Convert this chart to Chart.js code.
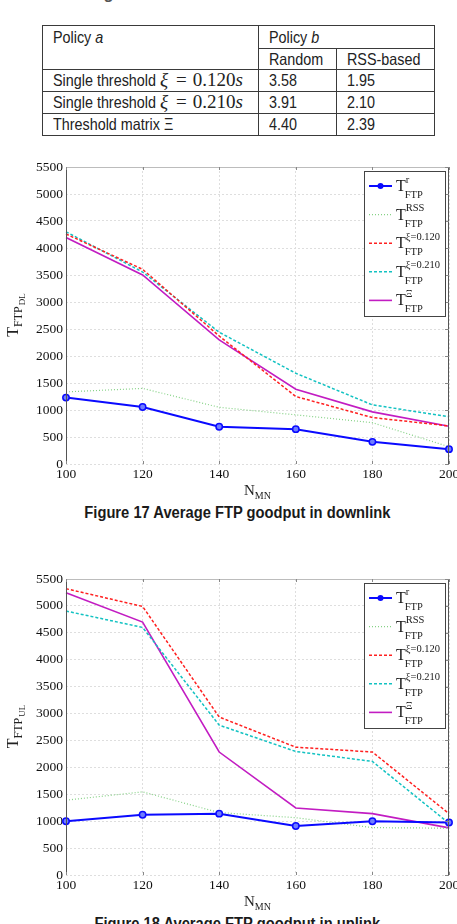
<!DOCTYPE html>
<html>
<head>
<meta charset="utf-8">
<title>Average FTP goodput</title>
<script src="https://cdn.jsdelivr.net/npm/chart.js@4.4.1/dist/chart.umd.min.js"></script>
<style>
html, body { margin: 0; padding: 0; background: #fff; }
body { position: relative; width: 457px; height: 924px; overflow: hidden; color: #222;
  font-family: "Liberation Sans", Arial, sans-serif; }
.tabtitle { position: absolute; left: 2px; top: -15px; font-size: 16px; font-weight: bold; font-style: italic; white-space: nowrap; color: #555; }
#factors { position: absolute; left: 42px; top: 25px; width: 392px; border-collapse: collapse; table-layout: fixed; font-size: 16.5px; }
#factors td { border: 1px solid #3a3a3a; padding: 0 0 0 10px; line-height: 20px; vertical-align: top; white-space: nowrap; overflow: hidden; }
#factors .m { font-family: "Liberation Serif", serif; font-size: 19px; }
#factors .m b { font-weight: normal; padding: 0 6px 0 8px; }
.nar { display: inline-block; transform: scaleX(0.87); transform-origin: 0 0; }
.caption { position: absolute; left: 37px; width: 400px; text-align: center; font-weight: bold; font-size: 16px; white-space: nowrap; color: #1a1a1a; }
.caption span { display: inline-block; transform: scaleX(0.92); transform-origin: 50% 0; }
canvas { position: absolute; left: 0; }
</style>
</head>
<body>
<div class="tabtitle">Table 1 Average handover rotation factors</div>
<table id="factors"></table>
<canvas id="dlChart" width="457" height="352" style="top:150px"></canvas>
<div class="caption" style="top:504px"><span>Figure 17 Average FTP goodput in downlink</span></div>
<canvas id="ulChart" width="457" height="352" style="top:560px"></canvas>
<div class="caption" style="top:915px"><span>Figure 18 Average FTP goodput in uplink</span></div>
<script>
// table data
const policyNames = ['Single threshold', 'Single threshold', 'Threshold matrix \u039E'];
const thresholds = ['0.120', '0.210', null];
const randomFactors = [3.58, 3.91, 4.40];
const rssFactors = [1.95, 2.10, 2.39];

// chart data
const nMN = [100, 120, 140, 160, 180, 200];
const dlRandom = [1230, 1055, 690, 645, 410, 275];
const dlRss = [1335, 1400, 1050, 910, 765, 320];
const dlXi120 = [4260, 3605, 2370, 1250, 860, 705];
const dlXi210 = [4300, 3555, 2440, 1680, 1095, 875];
const dlMatrix = [4195, 3500, 2300, 1385, 965, 700];

const ulRandom = [1000, 1120, 1140, 910, 1000, 975];
const ulRss = [1390, 1545, 1160, 1065, 880, 870];
const ulXi120 = [5320, 4990, 2935, 2375, 2285, 1140];
const ulXi210 = [4905, 4600, 2785, 2295, 2110, 960];
const ulMatrix = [5245, 4700, 2285, 1245, 1140, 875];

const legendSupers = ['r', 'RSS', '\u03BE=0.120', '\u03BE=0.210', '\u039E'];

const lineStyles = [
	{ color: '#0a0aff', width: 2, dash: [], marker: true },
	{ color: '#86d286', width: 1.2, dash: [1, 2] },
	{ color: '#ff2020', width: 1.5, dash: [3, 2] },
	{ color: '#12c2c2', width: 1.5, dash: [3, 2] },
	{ color: '#c21cc2', width: 1.6, dash: [] },
];

// table
const nar = s => '<span class="nar">' + s + '</span>';
let html = '<colgroup><col style="width:216px"><col style="width:78px"><col style="width:98px"></colgroup>';
html += '<tr style="height:23px"><td rowspan="2" style="padding-top:1px">' + nar('Policy <i>a</i>') +
	'</td><td colspan="2" style="padding-top:1px">' + nar('Policy <i>b</i>') + '</td></tr>';
html += '<tr style="height:20px"><td>' + nar('Random') + '</td><td>' + nar('RSS-based') + '</td></tr>';
policyNames.forEach((name, i) => {
	const math = thresholds[i] ? '<span class="m"><i>\u03BE</i><b>=</b>' + thresholds[i] + '<i>s</i></span>' : '';
	html += '<tr style="height:22px"><td>' + nar(name + (math ? '&nbsp;' : '')) + math + '</td><td>' +
		nar(randomFactors[i].toFixed(2)) + '</td><td>' + nar(rssFactors[i].toFixed(2)) + '</td></tr>';
});
document.getElementById('factors').innerHTML = html;
document.querySelectorAll('.nar').forEach(el => {
	el.style.marginRight = (-0.13 * el.offsetWidth) + 'px';
});

const serif = '"Liberation Serif", "Times New Roman", serif';

function drawText(ctx, s, x, y, size) {
	ctx.font = size + 'px ' + serif;
	ctx.fillText(s, x, y);
	return ctx.measureText(s).width;
}

const figurePlugin = {
	id: 'figure',
	afterDraw(chart, args, opts) {
		const { ctx, chartArea: a, scales } = chart;
		ctx.save();
		// axes box
		ctx.lineWidth = 1;
		ctx.strokeStyle = '#bcbcbc';
		ctx.beginPath();
		ctx.moveTo(a.left, a.top + 0.5); ctx.lineTo(a.right, a.top + 0.5);
		ctx.stroke();
		ctx.strokeStyle = '#555';
		ctx.beginPath();
		ctx.moveTo(a.left + 0.5, a.top); ctx.lineTo(a.left + 0.5, a.bottom);
		ctx.moveTo(a.right - 0.5, a.top); ctx.lineTo(a.right - 0.5, a.bottom);
		ctx.stroke();
		ctx.strokeStyle = '#888';
		ctx.beginPath();
		scales.x.ticks.forEach(t => {
			const px = Math.round(scales.x.getPixelForValue(t.value)) + 0.5;
			ctx.moveTo(px, a.top); ctx.lineTo(px, a.top + 3);
			ctx.moveTo(px, a.bottom); ctx.lineTo(px, a.bottom - 3);
		});
		scales.y.ticks.forEach(t => {
			const py = Math.round(scales.y.getPixelForValue(t.value)) + 0.5;
			ctx.moveTo(a.right, py); ctx.lineTo(a.right - 4, py);
		});
		ctx.stroke();

		// legend
		const bx = a.right - 85, by = a.top + 4, bw = 81, bh = 145;
		ctx.fillStyle = '#fff';
		ctx.fillRect(bx, by, bw, bh);
		ctx.strokeStyle = '#444';
		ctx.strokeRect(bx + 0.5, by + 0.5, bw, bh);
		chart.data.datasets.forEach((ds, i) => {
			const cy = by + 15 + i * 28.6;
			ctx.strokeStyle = ds.borderColor;
			ctx.lineWidth = ds.borderWidth;
			ctx.setLineDash(ds.borderDash);
			ctx.beginPath();
			ctx.moveTo(bx + 5, cy); ctx.lineTo(bx + 28, cy);
			ctx.stroke();
			ctx.setLineDash([]);
			if (ds.pointRadius > 0) {
				ctx.fillStyle = ds.pointBorderColor;
				ctx.beginPath();
				ctx.arc(bx + 16.5, cy, 3, 0, Math.PI * 2);
				ctx.fill();
			}
			ctx.fillStyle = '#1a1a1a';
			const tx = bx + 32;
			const wT = drawText(ctx, 'T', tx, cy + 5, 16);
			drawText(ctx, legendSupers[i], tx + wT, cy - 3.5, 10.5);
			drawText(ctx, 'FTP', tx + wT - 1, cy + 12, 10.5);
		});

		// x title
		ctx.fillStyle = '#222';
		ctx.font = '15px ' + serif;
		const wN = ctx.measureText('N').width;
		ctx.font = '10px ' + serif;
		const wMN = ctx.measureText('MN').width;
		const x0 = (a.left + a.right) / 2 - (wN + wMN) / 2;
		drawText(ctx, 'N', x0, a.bottom + 31, 15);
		drawText(ctx, 'MN', x0 + wN, a.bottom + 35, 10);

		// y title
		ctx.translate(18, (a.top + a.bottom) / 2);
		ctx.rotate(-Math.PI / 2);
		ctx.font = '16px ' + serif;
		const wT = ctx.measureText('T').width;
		ctx.font = '12px ' + serif;
		const wF = ctx.measureText('FTP').width;
		ctx.font = '9px ' + serif;
		const wS = ctx.measureText(opts.sub).width;
		let u = -(wT + wF + wS) / 2;
		u += drawText(ctx, 'T', u, 0, 16);
		u += drawText(ctx, 'FTP', u, 4, 12);
		drawText(ctx, opts.sub, u + 1, 7, 9);
		ctx.restore();
	},
};

function buildDatasets(seriesList) {
	return seriesList.map((vals, i) => ({
		data: nMN.map((n, k) => ({ x: n, y: vals[k] })),
		borderColor: lineStyles[i].color,
		borderWidth: lineStyles[i].width,
		borderDash: lineStyles[i].dash,
		pointRadius: lineStyles[i].marker ? 3.2 : 0,
		pointBorderWidth: 1.5,
		pointBorderColor: lineStyles[i].color,
		pointBackgroundColor: '#6f7dff',
		tension: 0,
		fill: false,
		clip: 8,
	}));
}

function makeChart(id, seriesList, sub, plotTop, xHeight) {
	const tickFont = { family: serif, size: 13.5 };
	return new Chart(document.getElementById(id), {
		type: 'line',
		data: { datasets: buildDatasets(seriesList) },
		plugins: [figurePlugin],
		options: {
			responsive: false,
			animation: false,
			events: [],
			layout: { padding: { top: plotTop, right: 8, left: 0, bottom: 0 } },
			plugins: { legend: { display: false }, tooltip: { enabled: false }, figure: { sub } },
			scales: {
				x: {
					type: 'linear', min: 100, max: 200,
					ticks: { stepSize: 20, padding: 2, color: '#111', font: tickFont, callback: v => String(v) },
					grid: { color: '#dedede', drawTicks: false },
					border: { display: false, dash: [2, 2] },
					afterFit: s => { s.height = xHeight; s.paddingLeft = 0; s.paddingRight = 0; },
				},
				y: {
					type: 'linear', min: 0, max: 5500,
					ticks: { stepSize: 500, padding: 3, color: '#111', font: tickFont, callback: v => String(v) },
					grid: { color: '#dedede', drawTicks: false },
					border: { display: false, dash: [2, 2] },
					afterFit: s => { s.width = 66; },
				},
			},
		},
	});
}

makeChart('dlChart', [dlRandom, dlRss, dlXi120, dlXi210, dlMatrix], 'DL', 17, 38);
makeChart('ulChart', [ulRandom, ulRss, ulXi120, ulXi210, ulMatrix], 'UL', 19, 37);
</script>
</body>
</html>
